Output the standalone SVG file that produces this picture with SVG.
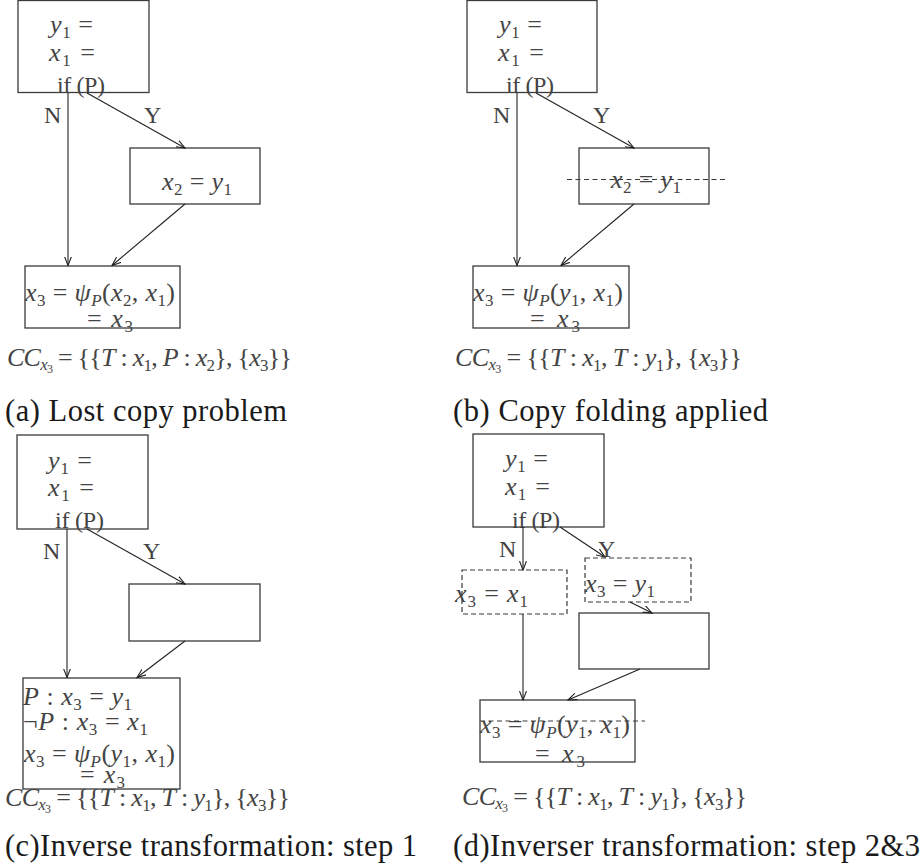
<svg xmlns="http://www.w3.org/2000/svg" width="924" height="867" viewBox="0 0 924 867">
<defs>
<style>
.box{fill:none;stroke:#3a3a3a;stroke-width:1.3}
.dbox{fill:none;stroke:#3a3a3a;stroke-width:1.2;stroke-dasharray:5 3}
.dl{fill:none;stroke:#3a3a3a;stroke-width:1.1;stroke-dasharray:5 3.5}
.c{fill:none;stroke:#222;stroke-width:1.1;marker-end:url(#ah)}
.m{font-family:"Liberation Serif",serif;font-size:26px;fill:#444}
.u{font-family:"Liberation Serif",serif;font-size:24px;fill:#444}
.i{font-style:italic}
.s{font-size:17px}
.ss{font-size:12px}
.cap{font-family:"Liberation Serif",serif;font-size:30.5px;fill:#1a1a1a}
</style>
<marker id="ah" viewBox="0 0 10 8" refX="9" refY="4" markerWidth="10" markerHeight="8" markerUnits="userSpaceOnUse" orient="auto">
<path d="M0,0.5 L9,4 L0,7.5" fill="none" stroke="#222" stroke-width="1.1"/>
</marker>
</defs>
<rect width="924" height="867" fill="#fff"/>

<!-- ========== Panel (a) ========== -->
<g id="a-entry">
<rect class="box" x="18" y="0.5" width="131" height="92"/>
<text class="m" x="50" y="33" textLength="43"><tspan class="i">y</tspan><tspan class="s" dy="5">1</tspan><tspan dy="-5"> =</tspan></text>
<text class="m" x="49" y="61" textLength="46"><tspan class="i">x</tspan><tspan class="s" dy="5">1</tspan><tspan dy="-5"> =</tspan></text>
<text class="u" x="57" y="93" textLength="48">if (P)</text>
</g>
<g id="a-then">
<rect class="box" x="130" y="148" width="130" height="56"/>
<text class="m" x="162" y="190" textLength="70"><tspan class="i">x</tspan><tspan class="s" dy="5">2</tspan><tspan dy="-5"> = </tspan><tspan class="i">y</tspan><tspan class="s" dy="5">1</tspan></text>
</g>
<g id="a-join">
<rect class="box" x="25" y="266" width="155" height="62"/>
<text class="m" x="25" y="301" textLength="150"><tspan class="i">x</tspan><tspan class="s" dy="5">3</tspan><tspan dy="-5"> = </tspan><tspan class="i">ψ</tspan><tspan class="s i" dy="5">P</tspan><tspan dy="-5">(</tspan><tspan class="i">x</tspan><tspan class="s" dy="5">2</tspan><tspan dy="-5">, </tspan><tspan class="i">x</tspan><tspan class="s" dy="5">1</tspan><tspan dy="-5">)</tspan></text>
<text class="m" x="87" y="327" textLength="46">= <tspan class="i">x</tspan><tspan class="s" dy="5">3</tspan></text>
</g>
<g id="a-cc">
<text class="m" x="7" y="366" textLength="285"><tspan class="i">CC</tspan><tspan class="s i" dy="4">x</tspan><tspan class="ss" dy="3">3</tspan><tspan dy="-7"> = {{</tspan><tspan class="i">T</tspan> : <tspan class="i">x</tspan><tspan class="s" dy="5">1</tspan><tspan dy="-5">, </tspan><tspan class="i">P</tspan> : <tspan class="i">x</tspan><tspan class="s" dy="5">2</tspan><tspan dy="-5">}, {</tspan><tspan class="i">x</tspan><tspan class="s" dy="5">3</tspan><tspan dy="-5">}}</tspan></text>
</g>
<text class="cap" x="5" y="421" textLength="282">(a) Lost copy problem</text>

<!-- ========== Panel (b) ========== -->
<g id="b-entry">
<rect class="box" x="467" y="0.5" width="130" height="92"/>
<text class="m" x="499" y="33" textLength="43"><tspan class="i">y</tspan><tspan class="s" dy="5">1</tspan><tspan dy="-5"> =</tspan></text>
<text class="m" x="498" y="61" textLength="46"><tspan class="i">x</tspan><tspan class="s" dy="5">1</tspan><tspan dy="-5"> =</tspan></text>
<text class="u" x="506" y="93" textLength="48">if (P)</text>
</g>
<g id="b-then">
<rect class="box" x="579" y="148" width="130" height="56"/>
<text class="m" x="611" y="188" textLength="70"><tspan class="i">x</tspan><tspan class="s" dy="5">2</tspan><tspan dy="-5"> = </tspan><tspan class="i">y</tspan><tspan class="s" dy="5">1</tspan></text>
<line class="dl" x1="567" y1="179.5" x2="728" y2="179.5"/>
</g>
<g id="b-join">
<rect class="box" x="473" y="266" width="156" height="62"/>
<text class="m" x="473" y="301" textLength="150"><tspan class="i">x</tspan><tspan class="s" dy="5">3</tspan><tspan dy="-5"> = </tspan><tspan class="i">ψ</tspan><tspan class="s i" dy="5">P</tspan><tspan dy="-5">(</tspan><tspan class="i">y</tspan><tspan class="s" dy="5">1</tspan><tspan dy="-5">, </tspan><tspan class="i">x</tspan><tspan class="s" dy="5">1</tspan><tspan dy="-5">)</tspan></text>
<text class="m" x="530" y="327" textLength="50">= <tspan class="i">x</tspan><tspan class="s" dy="5">3</tspan></text>
</g>
<g id="b-cc">
<text class="m" x="455" y="366" textLength="287"><tspan class="i">CC</tspan><tspan class="s i" dy="4">x</tspan><tspan class="ss" dy="3">3</tspan><tspan dy="-7"> = {{</tspan><tspan class="i">T</tspan> : <tspan class="i">x</tspan><tspan class="s" dy="5">1</tspan><tspan dy="-5">, </tspan><tspan class="i">T</tspan> : <tspan class="i">y</tspan><tspan class="s" dy="5">1</tspan><tspan dy="-5">}, {</tspan><tspan class="i">x</tspan><tspan class="s" dy="5">3</tspan><tspan dy="-5">}}</tspan></text>
</g>
<text class="cap" x="453" y="421" textLength="315">(b) Copy folding applied</text>

<!-- ========== Panel (c) ========== -->
<g id="c-entry">
<rect class="box" x="17" y="435" width="131" height="94"/>
<text class="m" x="48" y="469" textLength="44"><tspan class="i">y</tspan><tspan class="s" dy="5">1</tspan><tspan dy="-5"> =</tspan></text>
<text class="m" x="48" y="496" textLength="46"><tspan class="i">x</tspan><tspan class="s" dy="5">1</tspan><tspan dy="-5"> =</tspan></text>
<text class="u" x="55" y="528" textLength="49">if (P)</text>
</g>
<g id="c-then">
<rect class="box" x="129" y="584" width="131" height="57"/>
</g>
<g id="c-join">
<rect class="box" x="23" y="678" width="157" height="111"/>
<text class="m" x="23" y="705" textLength="109"><tspan class="i">P</tspan> : <tspan class="i">x</tspan><tspan class="s" dy="5">3</tspan><tspan dy="-5"> = </tspan><tspan class="i">y</tspan><tspan class="s" dy="5">1</tspan></text>
<text class="m" x="23" y="730" textLength="125">¬<tspan class="i">P</tspan> : <tspan class="i">x</tspan><tspan class="s" dy="5">3</tspan><tspan dy="-5"> = </tspan><tspan class="i">x</tspan><tspan class="s" dy="5">1</tspan></text>
<text class="m" x="24" y="762" textLength="151"><tspan class="i">x</tspan><tspan class="s" dy="5">3</tspan><tspan dy="-5"> = </tspan><tspan class="i">ψ</tspan><tspan class="s i" dy="5">P</tspan><tspan dy="-5">(</tspan><tspan class="i">y</tspan><tspan class="s" dy="5">1</tspan><tspan dy="-5">, </tspan><tspan class="i">x</tspan><tspan class="s" dy="5">1</tspan><tspan dy="-5">)</tspan></text>
<text class="m" x="80" y="783" textLength="45">= <tspan class="i">x</tspan><tspan class="s" dy="5">3</tspan></text>
</g>
<g id="c-cc">
<text class="m" x="5" y="806" textLength="285"><tspan class="i">CC</tspan><tspan class="s i" dy="4">x</tspan><tspan class="ss" dy="3">3</tspan><tspan dy="-7"> = {{</tspan><tspan class="i">T</tspan> : <tspan class="i">x</tspan><tspan class="s" dy="5">1</tspan><tspan dy="-5">, </tspan><tspan class="i">T</tspan> : <tspan class="i">y</tspan><tspan class="s" dy="5">1</tspan><tspan dy="-5">}, {</tspan><tspan class="i">x</tspan><tspan class="s" dy="5">3</tspan><tspan dy="-5">}}</tspan></text>
</g>
<text class="cap" x="5" y="856" textLength="412">(c)Inverse transformation: step 1</text>

<!-- ========== Panel (d) ========== -->
<g id="d-entry">
<rect class="box" x="473" y="434" width="131" height="93"/>
<text class="m" x="505" y="467" textLength="43"><tspan class="i">y</tspan><tspan class="s" dy="5">1</tspan><tspan dy="-5"> =</tspan></text>
<text class="m" x="505" y="495" textLength="45"><tspan class="i">x</tspan><tspan class="s" dy="5">1</tspan><tspan dy="-5"> =</tspan></text>
<text class="u" x="512" y="528" textLength="48">if (P)</text>
</g>
<g id="d-copy-n">
<rect class="dbox" x="462" y="570" width="105" height="44"/>
<text class="m" x="455" y="602" textLength="73"><tspan class="i">x</tspan><tspan class="s" dy="5">3</tspan><tspan dy="-5"> = </tspan><tspan class="i">x</tspan><tspan class="s" dy="5">1</tspan></text>
</g>
<g id="d-copy-y">
<rect class="dbox" x="585" y="558" width="106" height="44"/>
<text class="m" x="585" y="592" textLength="70"><tspan class="i">x</tspan><tspan class="s" dy="5">3</tspan><tspan dy="-5"> = </tspan><tspan class="i">y</tspan><tspan class="s" dy="5">1</tspan></text>
</g>
<g id="d-then">
<rect class="box" x="579" y="613" width="130" height="56"/>
</g>
<g id="d-join">
<rect class="box" x="480" y="700" width="155" height="62"/>
<text class="m" x="480" y="733" textLength="150"><tspan class="i">x</tspan><tspan class="s" dy="5">3</tspan><tspan dy="-5"> = </tspan><tspan class="i">ψ</tspan><tspan class="s i" dy="5">P</tspan><tspan dy="-5">(</tspan><tspan class="i">y</tspan><tspan class="s" dy="5">1</tspan><tspan dy="-5">, </tspan><tspan class="i">x</tspan><tspan class="s" dy="5">1</tspan><tspan dy="-5">)</tspan></text>
<line class="dl" x1="480" y1="721" x2="645" y2="721"/>
<text class="m" x="535" y="762" textLength="50">= <tspan class="i">x</tspan><tspan class="s" dy="5">3</tspan></text>
</g>
<g id="d-cc">
<text class="m" x="462" y="805" textLength="285"><tspan class="i">CC</tspan><tspan class="s i" dy="4">x</tspan><tspan class="ss" dy="3">3</tspan><tspan dy="-7"> = {{</tspan><tspan class="i">T</tspan> : <tspan class="i">x</tspan><tspan class="s" dy="5">1</tspan><tspan dy="-5">, </tspan><tspan class="i">T</tspan> : <tspan class="i">y</tspan><tspan class="s" dy="5">1</tspan><tspan dy="-5">}, {</tspan><tspan class="i">x</tspan><tspan class="s" dy="5">3</tspan><tspan dy="-5">}}</tspan></text>
</g>
<text class="cap" x="453" y="856" textLength="467">(d)Inverser transformation: step 2&amp;3</text>

<!-- ========== Connectors ========== -->
<g id="connectors">
<line class="c" x1="68" y1="92.5" x2="68" y2="265.5"/>
<line class="c" x1="87" y1="93" x2="185" y2="148"/>
<line class="c" x1="185" y1="204" x2="112" y2="265.5"/>
<text class="u" x="44" y="123">N</text>
<text class="u" x="144" y="123">Y</text>

<line class="c" x1="517" y1="92.5" x2="517" y2="265.5"/>
<line class="c" x1="536" y1="93" x2="634" y2="148"/>
<line class="c" x1="634" y1="204" x2="561" y2="265.5"/>
<text class="u" x="493" y="123">N</text>
<text class="u" x="593" y="123">Y</text>

<line class="c" x1="67" y1="529" x2="67" y2="677.5"/>
<line class="c" x1="87" y1="529" x2="185" y2="584"/>
<line class="c" x1="185" y1="641" x2="137" y2="677.5"/>
<text class="u" x="43" y="559">N</text>
<text class="u" x="143" y="559">Y</text>

<line class="c" x1="523" y1="527" x2="523" y2="570"/>
<line class="c" x1="560" y1="527" x2="605" y2="557"/>
<line class="c" x1="630" y1="602" x2="652" y2="613"/>
<line class="c" x1="523" y1="614" x2="523" y2="700"/>
<line class="c" x1="640" y1="669" x2="568" y2="700"/>
<text class="u" x="499" y="557">N</text>
<text class="u" x="598" y="557">Y</text>
</g>
</svg>
